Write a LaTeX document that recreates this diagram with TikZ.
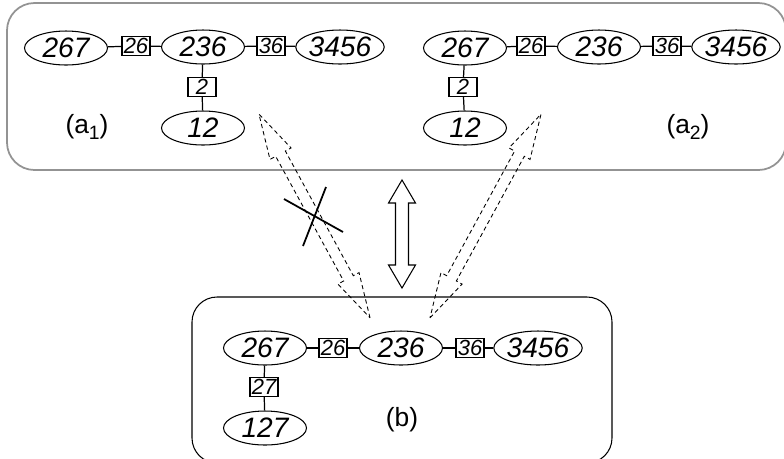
\documentclass[tikz,border=0pt]{standalone}
\usepackage{fontspec}
\setmainfont{Liberation Sans}
\usepackage{tikz}
\usetikzlibrary{shapes,arrows,positioning,calc}

\tikzset{
    clique/.style={draw, ellipse, line width=0.6pt, minimum width=1.66cm, minimum height=0.68cm, inner sep=0pt, font=\fontsize{16}{16}\selectfont\itshape},
    sepbox/.style={draw, line width=0.7pt, minimum width=0.56cm, minimum height=0.38cm, inner sep=0pt, font=\fontsize{12.5}{12.5}\selectfont\itshape},
    caption/.style={font=\fontsize{15}{15}\selectfont},
    link/.style={line width=0.7pt},
    hollow/.style={dash pattern=on 2.4pt off 1.8pt, line width=0.5pt}
}

\begin{document}
\begin{tikzpicture}[x=0.02cm, y=-0.02cm]
    \useasboundingbox (0,0) rectangle (784,458);

    % Frames
    \draw[gray!85, line width=1pt, rounded corners=0.55cm] (7,3) rectangle (786,170); % top (a1)/(a2)
    \draw[line width=0.6pt, rounded corners=0.5cm] (192,297) rectangle (612,463); % bottom (b)

    % (a1)
    \node[clique] (l267) at (66,48) {267};
    \node[sepbox] (l26) at (136,46) {26};
    \node[clique] (l236) at (203,47) {236};
    \node[sepbox] (l36) at (271,46) {36};
    \node[clique] (l3456) at (340,47) {3456};
    \node[sepbox] (l2) at (202,87) {2};
    \node[clique] (l12) at (203,128) {12};
    \node[caption] (la) at (87,127) {(a\raisebox{-0.45ex}{\fontsize{11}{11}\selectfont 1})};
    \draw[link] (l267) -- (l26) -- (l236) -- (l36) -- (l3456);
    \draw[link] (l236) -- (l2) -- (l12);

    % (a2)
    \node[clique] (r267) at (465,48) {267};
    \node[sepbox] (r26) at (531,46) {26};
    \node[clique] (r236) at (599,47) {236};
    \node[sepbox] (r36) at (667,46) {36};
    \node[clique] (r3456) at (736,47) {3456};
    \node[sepbox] (r2) at (463,87) {2};
    \node[clique] (r12) at (465,128) {12};
    \node[caption] (ra) at (688,127) {(a\raisebox{-0.45ex}{\fontsize{11}{11}\selectfont 2})};
    \draw[link] (r267) -- (r26) -- (r236) -- (r36) -- (r3456);
    \draw[link] (r267) -- (r2) -- (r12);

    % (b)
    \node[clique] (b267) at (265,348) {267};
    \node[sepbox] (b26) at (333,348) {26};
    \node[clique] (b236) at (401,348) {236};
    \node[sepbox] (b36) at (470,348) {36};
    \node[clique] (b3456) at (538,348) {3456};
    \node[sepbox] (b27) at (264,387) {27};
    \node[clique] (b127) at (265,428) {127};
    \node[caption] (bb) at (402,420) {(b)};
    \draw[link] (b267) -- (b26) -- (b236) -- (b36) -- (b3456);
    \draw[link] (b267) -- (b27) -- (b127);

    % Arrows between the frames
    \coordinate (lmid) at (314.5,216);
    \coordinate (rmid) at (485.5,216);
    \coordinate (cmid) at (402,234);
    \begin{scope}[shift={(lmid)}, rotate=118.6]
        \draw[hollow] (-116,0) -- (-71,12) -- (-71,5.5) -- (71,5.5) -- (71,12) -- (116,0)
            -- (71,-12) -- (71,-5.5) -- (-71,-5.5) -- (-71,-12) -- cycle;
    \end{scope}
    \begin{scope}[shift={(rmid)}, rotate=61.4]
        \draw[hollow] (-116,0) -- (-71,12) -- (-71,5.5) -- (71,5.5) -- (71,12) -- (116,0)
            -- (71,-12) -- (71,-5.5) -- (-71,-5.5) -- (-71,-12) -- cycle;
    \end{scope}
    \begin{scope}[shift={(cmid)}, rotate=90]
        \draw[line width=0.6pt, fill=white] (-54,0) -- (-31,13.5) -- (-31,6.5) -- (31,6.5) -- (31,13.5) -- (54,0)
            -- (31,-13.5) -- (31,-6.5) -- (-31,-6.5) -- (-31,-13.5) -- cycle;
    \end{scope}

    % Cross over the left arrow
    \draw[line width=1pt] (284,199) -- (343,232);
    \draw[line width=1pt] (326,187) -- (303,246);
\end{tikzpicture}
\end{document}
